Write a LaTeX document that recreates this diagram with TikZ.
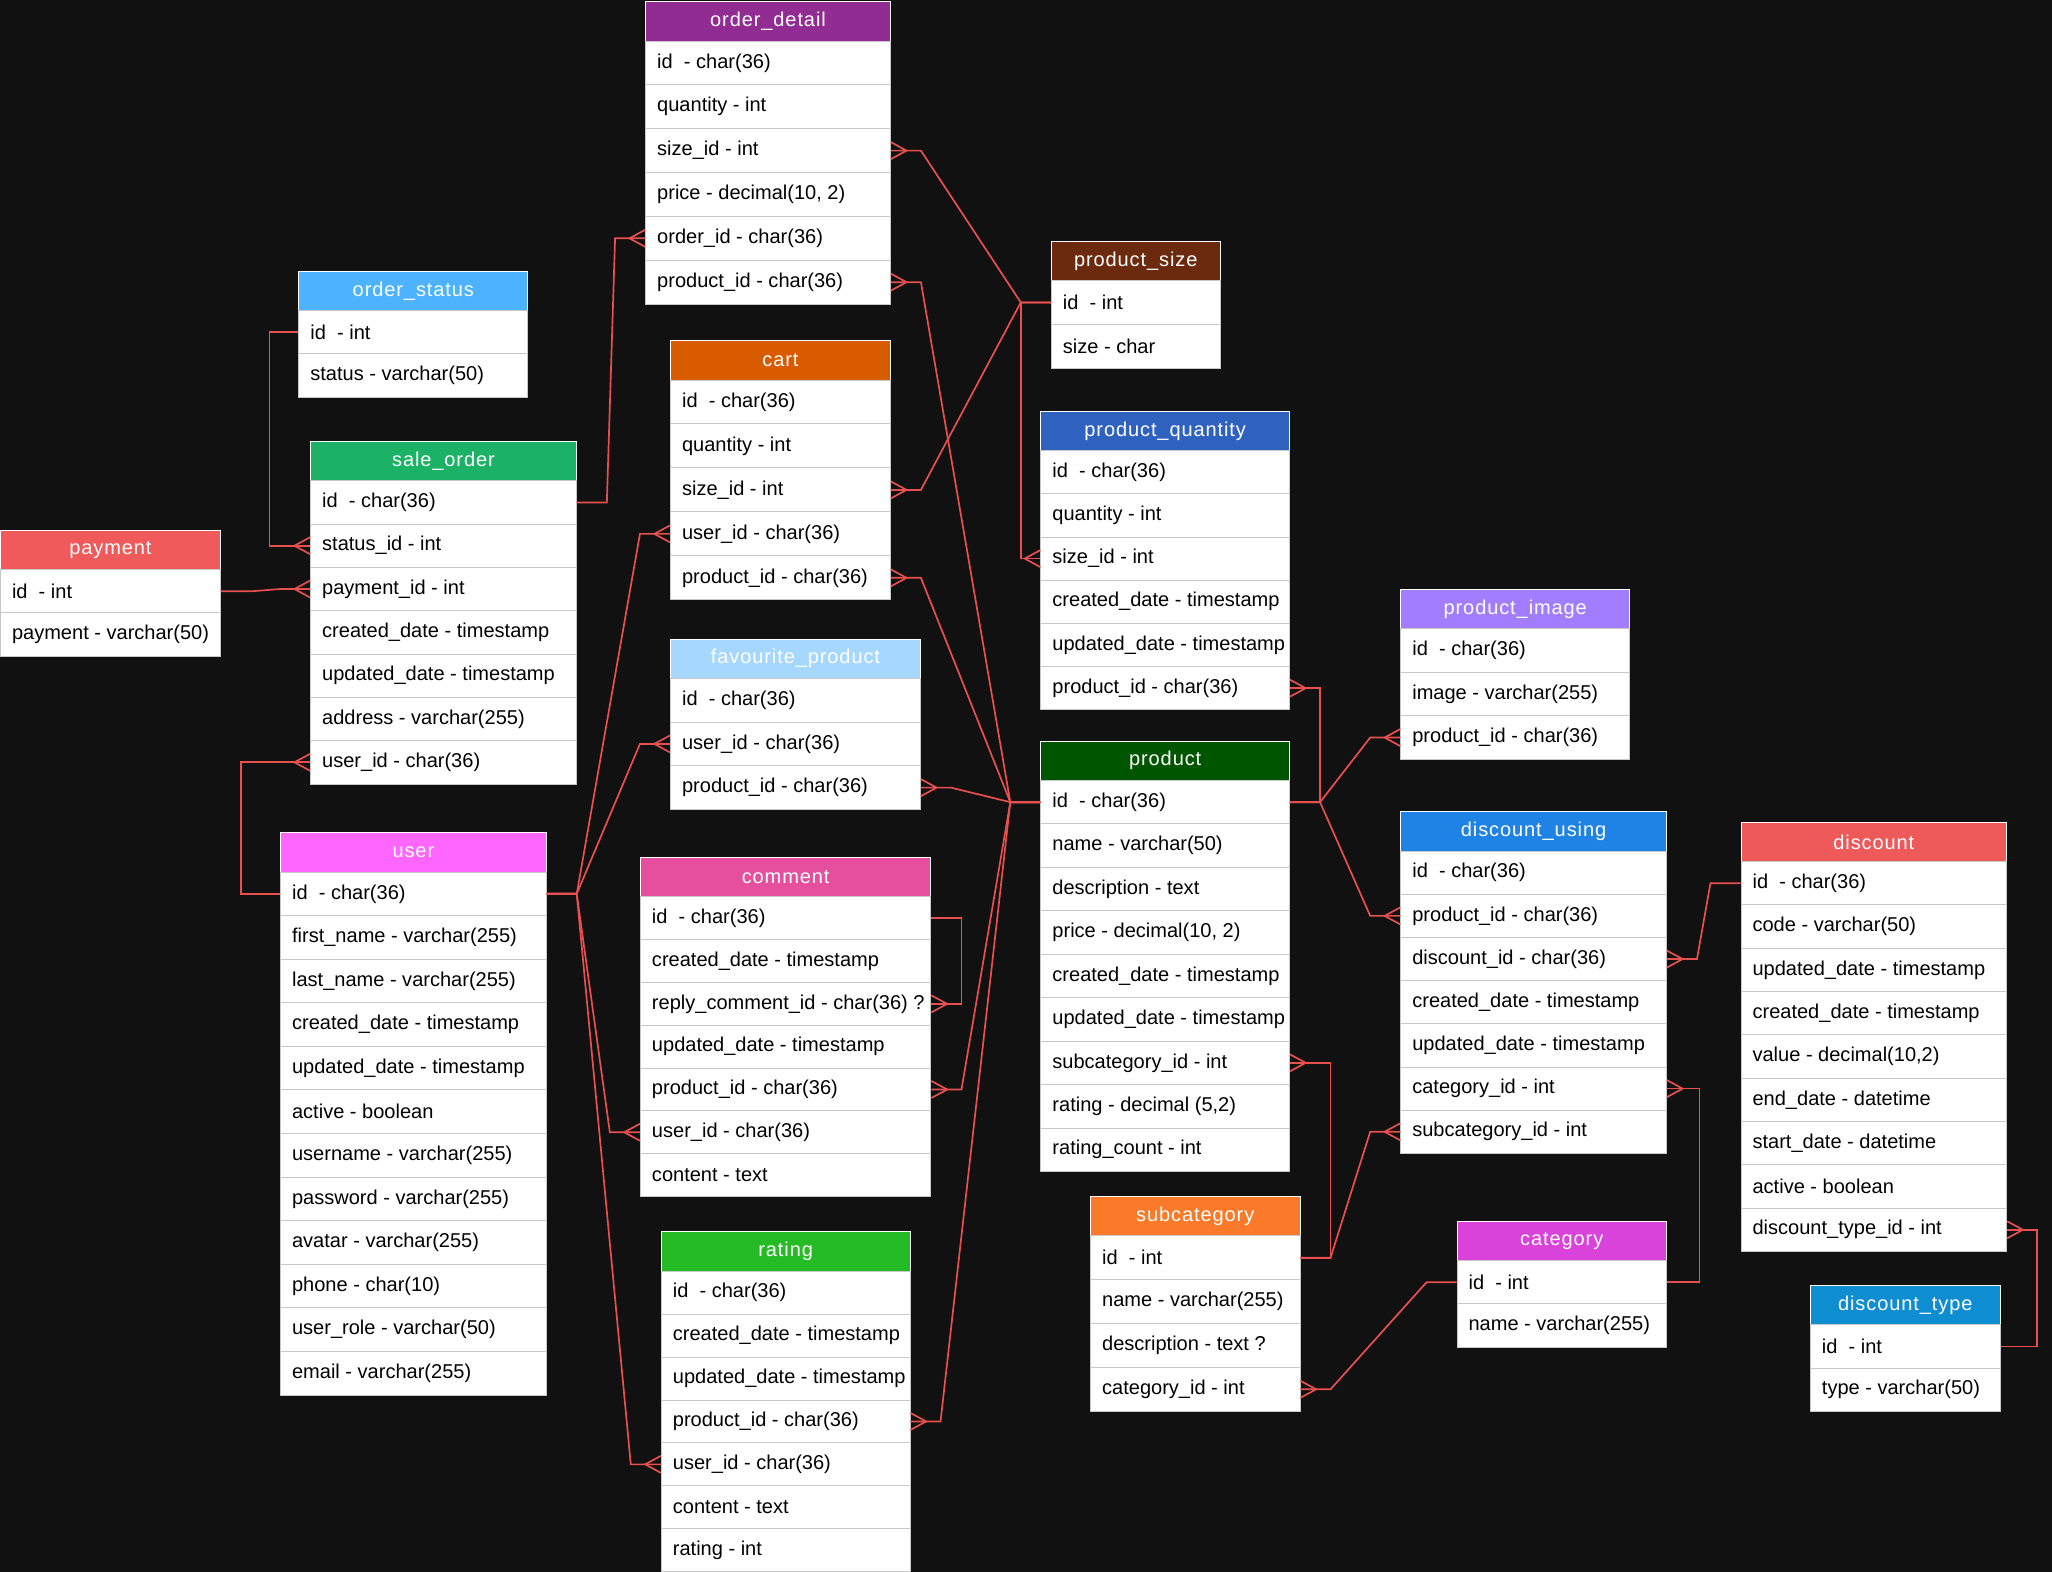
\documentclass[tikz,border=0pt]{standalone}
\usepackage{fontspec}
\setmainfont{Liberation Sans}
\newfontfamily\hdrfont[LetterSpace=4.5]{Liberation Sans}
\usetikzlibrary{calc}
\definecolor{bg}{HTML}{111111}
\definecolor{relc}{HTML}{E85050}
\definecolor{sepc}{HTML}{C8C8C8}
\definecolor{cOD}{HTML}{902C92}
\definecolor{cOS}{HTML}{4DB3FF}
\definecolor{cSO}{HTML}{1BB268}
\definecolor{cPAY}{HTML}{F05A5A}
\definecolor{cCART}{HTML}{D95B00}
\definecolor{cFAV}{HTML}{A6D8FF}
\definecolor{cUSER}{HTML}{FF66FF}
\definecolor{cCOM}{HTML}{E54F9E}
\definecolor{cRAT}{HTML}{25BB25}
\definecolor{cPS}{HTML}{6B2A0D}
\definecolor{cPQ}{HTML}{2F62BE}
\definecolor{cPROD}{HTML}{005500}
\definecolor{cPI}{HTML}{A27DFF}
\definecolor{cDU}{HTML}{1F82E5}
\definecolor{cDIS}{HTML}{EE5A5A}
\definecolor{cSUB}{HTML}{FA7A2A}
\definecolor{cCAT}{HTML}{D943D9}
\definecolor{cDT}{HTML}{0E8DD0}
\tikzset{
  rel/.style={draw=relc, line width=1.3pt, line join=miter},
  hdrbox/.style={draw=white, line width=0.7pt, inner sep=0pt, anchor=north west, minimum height=30pt},
  hdrtxt/.style={text=white, font=\fontsize{15.3}{18}\hdrfont, inner sep=0pt},
  rowbox/.style={draw=sepc, line width=0.7pt, fill=white, inner sep=0pt, anchor=north west},
  rowtxt/.style={text=black, font=\fontsize{15.3}{18}\selectfont, inner sep=0pt, anchor=west},
}
\newcommand\erdtab[8]{%
  \pgfmathsetmacro\tabw{#4-#3}%
  \node[hdrbox, fill=#7, minimum width=\tabw pt] (#1-h) at (#3,#5) {};
  \node[hdrtxt] (#1-ht) at (#1-h.center) {#2};
  \foreach \t [count=\i] in {#8} {
    \node[rowbox, minimum width=\tabw pt, minimum height=#6 pt] (#1-\i) at (#3,{#5+30+(\i-1)*#6}) {};
    \node[rowtxt] (#1-\i-t) at ($(#1-\i.west)+(9,0)$) {\t};
  }
}
\newcommand\crowL[1]{\draw[rel] ($(#1)+(0,-6.5)$) -- ($(#1)+(-12,0)$) -- ($(#1)+(0,6.5)$);}
\newcommand\crowR[1]{\draw[rel] ($(#1)+(0,-6.5)$) -- ($(#1)+(12,0)$) -- ($(#1)+(0,6.5)$);}
\newcommand\lnkRL[2]{\draw[rel] (#1.east) -- ++(23,0) -- ($(#2.west)+(-23,0)$) -- (#2.west); \crowL{#2.west}}
\newcommand\lnkLR[2]{\draw[rel] (#1.west) -- ++(-23,0) -- ($(#2.east)+(23,0)$) -- (#2.east); \crowR{#2.east}}
\newcommand\lnkRR[3]{\draw[rel] (#1.east) -- ++(#3,0) |- (#2.east); \crowR{#2.east}}
\newcommand\lnkLL[3]{\draw[rel] (#1.west) -- ++(-#3,0) |- (#2.west); \crowL{#2.west}}
\begin{document}
\begin{tikzpicture}[x=1pt,y=-1pt]
\fill[bg] (0,0) rectangle (1568,1201);
\useasboundingbox (0,0) rectangle (1568,1201);

\erdtab{odetail}{order\_detail}{493}{680}{1}{33.5}{cOD}{id~ - char(36), quantity - int, size\_id - int, {price - decimal(10, 2)}, order\_id - char(36), product\_id - char(36)}
\erdtab{ostatus}{order\_status}{228}{403}{207}{33}{cOS}{id~ - int, status - varchar(50)}
\erdtab{sorder}{sale\_order}{237}{440}{337}{33.1}{cSO}{id~ - char(36), status\_id - int, payment\_id - int, created\_date - timestamp, updated\_date - timestamp, address - varchar(255), user\_id - char(36)}
\erdtab{payment}{payment}{0}{168}{405}{33}{cPAY}{id~ - int, payment - varchar(50)}
\erdtab{cart}{cart}{512}{680}{260}{33.6}{cCART}{id~ - char(36), quantity - int, size\_id - int, user\_id - char(36), product\_id - char(36)}
\erdtab{fav}{favourite\_product}{512}{703}{488}{33.4}{cFAV}{id~ - char(36), user\_id - char(36), product\_id - char(36)}
\erdtab{user}{user}{214}{417}{636}{33.3}{cUSER}{id~ - char(36), first\_name - varchar(255), last\_name - varchar(255), created\_date - timestamp, updated\_date - timestamp, active - boolean, username - varchar(255), password - varchar(255), avatar - varchar(255), phone - char(10), user\_role - varchar(50), email - varchar(255)}
\erdtab{comment}{comment}{489}{711}{655}{32.7}{cCOM}{id~ - char(36), created\_date - timestamp, reply\_comment\_id - char(36) ?, updated\_date - timestamp, product\_id - char(36), user\_id - char(36), content - text}
\erdtab{rating}{rating}{505}{695}{941}{32.8}{cRAT}{id~ - char(36), created\_date - timestamp, updated\_date - timestamp, product\_id - char(36), user\_id - char(36), content - text, rating - int}
\erdtab{psize}{product\_size}{803}{932}{184}{33.5}{cPS}{id~ - int, size - char}
\erdtab{pquant}{product\_quantity}{795}{985}{314}{33}{cPQ}{id~ - char(36), quantity - int, size\_id - int, created\_date - timestamp, updated\_date - timestamp, product\_id - char(36)}
\erdtab{product}{product}{795}{985}{566}{33.2}{cPROD}{id~ - char(36), name - varchar(50), description - text, {price - decimal(10, 2)}, created\_date - timestamp, updated\_date - timestamp, subcategory\_id - int, {rating - decimal (5,2)}, rating\_count - int}
\erdtab{pimage}{product\_image}{1070}{1245}{450}{33.3}{cPI}{id~ - char(36), image - varchar(255), product\_id - char(36)}
\erdtab{dusing}{discount\_using}{1070}{1273}{620}{33}{cDU}{id~ - char(36), product\_id - char(36), discount\_id - char(36), created\_date - timestamp, updated\_date - timestamp, category\_id - int, subcategory\_id - int}
\erdtab{discount}{discount}{1330}{1533}{628}{33.1}{cDIS}{id~ - char(36), code - varchar(50), updated\_date - timestamp, created\_date - timestamp, {value - decimal(10,2)}, end\_date - datetime, start\_date - datetime, active - boolean, discount\_type\_id - int}
\erdtab{subcat}{subcategory}{833}{993}{914}{33.5}{cSUB}{id~ - int, name - varchar(255), description - text ?, category\_id - int}
\erdtab{category}{category}{1113}{1273}{933}{33}{cCAT}{id~ - int, name - varchar(255)}
\erdtab{dtype}{discount\_type}{1383}{1528}{982}{33}{cDT}{id~ - int, type - varchar(50)}

\lnkLL{ostatus-1}{sorder-2}{22}
\lnkRL{sorder-1}{odetail-5}
\lnkRL{payment-1}{sorder-3}
\lnkLL{user-1}{sorder-7}{30}
\lnkRL{user-1}{cart-4}
\lnkRL{user-1}{fav-2}
\lnkRL{user-1}{comment-6}
\lnkRL{user-1}{rating-5}
\lnkLR{product-1}{odetail-6}
\lnkLR{product-1}{cart-5}
\lnkLR{product-1}{fav-3}
\lnkLR{product-1}{comment-5}
\lnkLR{product-1}{rating-4}
\lnkRR{product-1}{pquant-6}{23}
\lnkRL{product-1}{pimage-3}
\lnkRL{product-1}{dusing-2}
\lnkLR{psize-1}{odetail-3}
\lnkLR{psize-1}{cart-3}
\lnkLL{psize-1}{pquant-3}{23}
\lnkRR{comment-1}{comment-3}{23}
\lnkRR{subcat-1}{product-7}{23}
\lnkRL{subcat-1}{dusing-7}
\lnkLR{category-1}{subcat-4}
\lnkRR{category-1}{dusing-6}{25}
\lnkLR{discount-1}{dusing-3}
\lnkRR{dtype-1}{discount-9}{28}
\end{tikzpicture}
\end{document}
